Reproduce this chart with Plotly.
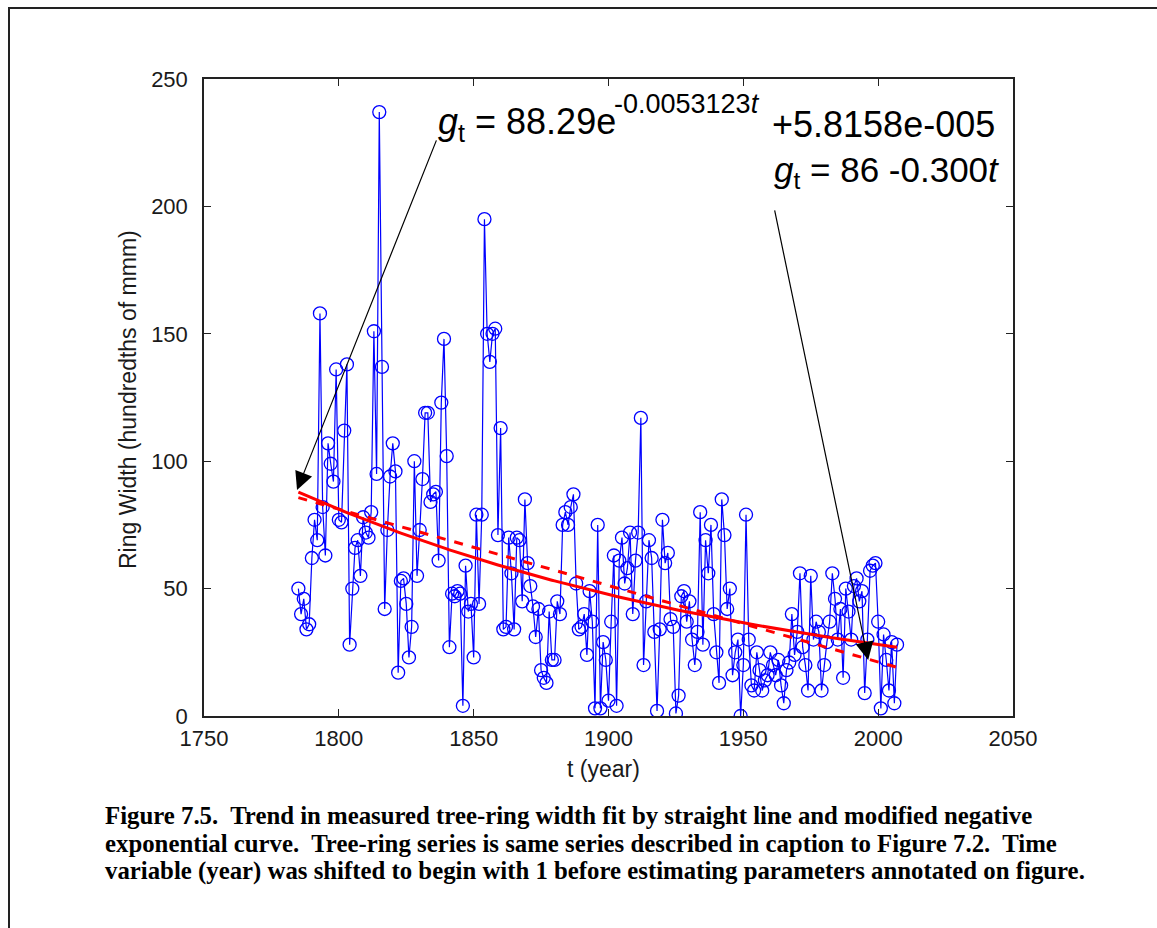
import numpy as np
import plotly.graph_objects as go

# ---- data ----
first_year = 1785
ring_width = [
    50, 40, 46, 34, 36, 62, 77, 69, 158, 82,      # 1785-1794
    63, 107, 99, 92, 136, 77, 76, 112, 138, 28,   # 1795-1804
    50, 66, 69, 55, 78, 72, 70, 80, 151, 95,      # 1805-1814
    237, 137, 42, 73, 94, 107, 96, 17, 53, 54,    # 1815-1824
    44, 23, 35, 100, 55, 73, 93, 119, 119, 84,    # 1825-1834
    87, 88, 61, 123, 148, 102, 27, 48, 47, 49,    # 1835-1844
    48, 4, 59, 41, 44, 23, 79, 44, 79, 195,       # 1845-1854
    150, 139, 150, 152, 71, 113, 34, 35, 70, 56,  # 1855-1864
    34, 70, 69, 45, 85, 60, 51, 43, 31, 42,       # 1865-1874
    18, 15, 13, 41, 22, 22, 45, 40, 75, 80,       # 1875-1884
    75, 82, 87, 52, 34, 35, 40, 24, 49, 37,       # 1885-1894
    3, 75, 3, 29, 22, 6, 37, 63, 4, 61,           # 1895-1904
    70, 52, 58, 72, 40, 61, 72, 117, 20, 45,      # 1905-1914
    69, 62, 33, 2, 34, 77, 60, 64, 38, 35,        # 1915-1924
    1, 8, 47, 49, 37, 45, 30, 20, 33, 80,         # 1925-1934
    28, 69, 56, 75, 40, 25, 13, 85, 71, 42,       # 1935-1944
    50, 16, 25, 30, 0, 20, 79, 30, 12, 10,        # 1945-1954
    25, 18, 10, 14, 16, 25, 20, 16, 22, 12,       # 1955-1964
    5, 18, 21, 40, 24, 33, 56, 27, 20, 10,        # 1965-1974
    55, 30, 37, 33, 10, 20, 29, 37, 56, 46,       # 1975-1984
    30, 42, 15, 50, 41, 30, 51, 54, 45, 49,       # 1985-1994
    9, 30, 57, 59, 60, 37, 3, 32, 22, 10,         # 1995-2004
    29, 5, 28,                                    # 2005-2007
]
years = list(range(first_year, first_year + len(ring_width)))

# fitted-curve parameters annotated on the figure (t = 1 at first year)
exp_a, exp_b, exp_c = 88.29, -0.0053123, 5.8158e-005
lin_a, lin_b = 86.0, -0.300

x_ticks = [1750, 1800, 1850, 1900, 1950, 2000, 2050]
y_ticks = [0, 50, 100, 150, 200, 250]

caption_lines = [
    "Figure 7.5.\u00a0 Trend in measured tree-ring width fit by straight line and modified negative",
    "exponential curve.\u00a0 Tree-ring series is same series described in caption to Figure 7.2.\u00a0 Time",
    "variable (year) was shifted to begin with 1 before estimating parameters annotated on figure.",
]

# ---- figure geometry (pixels) ----
W, H = 1157, 928
L, R, T, B = 204, 1013, 79, 716


def px(x):
    return (x - L) / (R - L)


def py(y):
    return (B - y) / (B - T)


t = np.array(years) - (first_year - 1)
exp_fit = exp_a * np.exp(exp_b * t) + exp_c
lin_fit = lin_a + lin_b * t

SANS = "Arial, Liberation Sans, sans-serif"
SERIF = "Times New Roman, Liberation Serif, serif"

fig = go.Figure()
fig.add_trace(go.Scatter(
    x=years, y=ring_width, mode="lines+markers",
    line=dict(color="#0000ff", width=1.2),
    marker=dict(symbol="circle-open", size=13, color="#0000ff", line=dict(width=1.3, color="#0000ff")),
    showlegend=False, hoverinfo="x+y",
))
fig.add_trace(go.Scatter(
    x=years, y=lin_fit, mode="lines",
    line=dict(color="#ff0000", width=3, dash="dash"), showlegend=False,
))
fig.add_trace(go.Scatter(
    x=years, y=exp_fit, mode="lines",
    line=dict(color="#ff0000", width=3), showlegend=False,
))

axis_common = dict(
    showgrid=False, zeroline=False, showline=True, mirror="ticks",
    linecolor="#222222", linewidth=1.5, ticks="inside", ticklen=7,
    tickcolor="#222222", tickwidth=1.2,
    tickfont=dict(family=SANS, size=22, color="#1a1a1a"),
)
fig.update_xaxes(range=[1750, 2050], tickvals=x_ticks, ticktext=[str(v) for v in x_ticks],
                 ticklabelstandoff=2, **axis_common)
fig.update_yaxes(range=[0, 250], tickvals=y_ticks, ticktext=[str(v) for v in y_ticks],
                 ticklabelstandoff=10, **axis_common)

ann = []
# axis titles
ann.append(dict(xref="paper", yref="paper", x=px(603), y=py(769), text="t (year)",
                showarrow=False, xanchor="center", yanchor="middle",
                font=dict(family=SANS, size=23, color="#1a1a1a")))
ann.append(dict(xref="paper", yref="paper", x=px(128), y=py(400), text="Ring Width (hundredths of mmm)",
                showarrow=False, textangle=-90, xanchor="center", yanchor="middle",
                font=dict(family=SANS, size=23, color="#1a1a1a")))

# equation texts
ann.append(dict(xref="paper", yref="paper", x=px(436), y=py(124),
                text="<i>g</i><sub>t</sub> = 88.29e", showarrow=False,
                xanchor="left", yanchor="middle", font=dict(family=SANS, size=36, color="black")))
ann.append(dict(xref="paper", yref="paper", x=px(612), y=py(104),
                text="-0.0053123<i>t</i>", showarrow=False,
                xanchor="left", yanchor="middle", font=dict(family=SANS, size=27, color="black")))
ann.append(dict(xref="paper", yref="paper", x=px(770), y=py(124),
                text="+5.8158e-005", showarrow=False,
                xanchor="left", yanchor="middle", font=dict(family=SANS, size=36, color="black")))
ann.append(dict(xref="paper", yref="paper", x=px(772), y=py(172),
                text="<i>g</i><sub>t</sub> = 86 -0.300<i>t</i>", showarrow=False,
                xanchor="left", yanchor="middle", font=dict(family=SANS, size=35, color="black")))

# arrows (tail at text, head at curve)
ann.append(dict(xref="x", yref="y", axref="x", ayref="y",
                x=years[0] - 0.5, y=lin_fit[0] + 3, ax=1836.4, ay=226.5,
                text="", showarrow=True, arrowhead=2, arrowsize=3, arrowwidth=1.2, arrowcolor="black"))
ann.append(dict(xref="x", yref="y", axref="x", ayref="y",
                x=1996.3, y=22, ax=1961.5, ay=199,
                text="", showarrow=True, arrowhead=2, arrowsize=3, arrowwidth=1.2, arrowcolor="black"))

# caption
for i, line in enumerate(caption_lines):
    ann.append(dict(xref="paper", yref="paper", x=px(103), y=py(815 + 28 * i),
                    text="<b>" + line + "</b>", showarrow=False,
                    xanchor="left", yanchor="middle",
                    font=dict(family=SERIF, size=24.8, color="black")))

shapes = [dict(type="rect", xref="paper", yref="paper",
               x0=px(9), x1=px(1170), y0=py(940), y1=py(8),
               line=dict(color="#222222", width=2), fillcolor="rgba(0,0,0,0)", layer="below")]

fig.update_layout(
    width=W, height=H,
    margin=dict(l=L, r=W - R, t=T, b=H - B, pad=0),
    paper_bgcolor="white", plot_bgcolor="white",
    annotations=ann, shapes=shapes, showlegend=False,
)

fig.write_html("out.html")
